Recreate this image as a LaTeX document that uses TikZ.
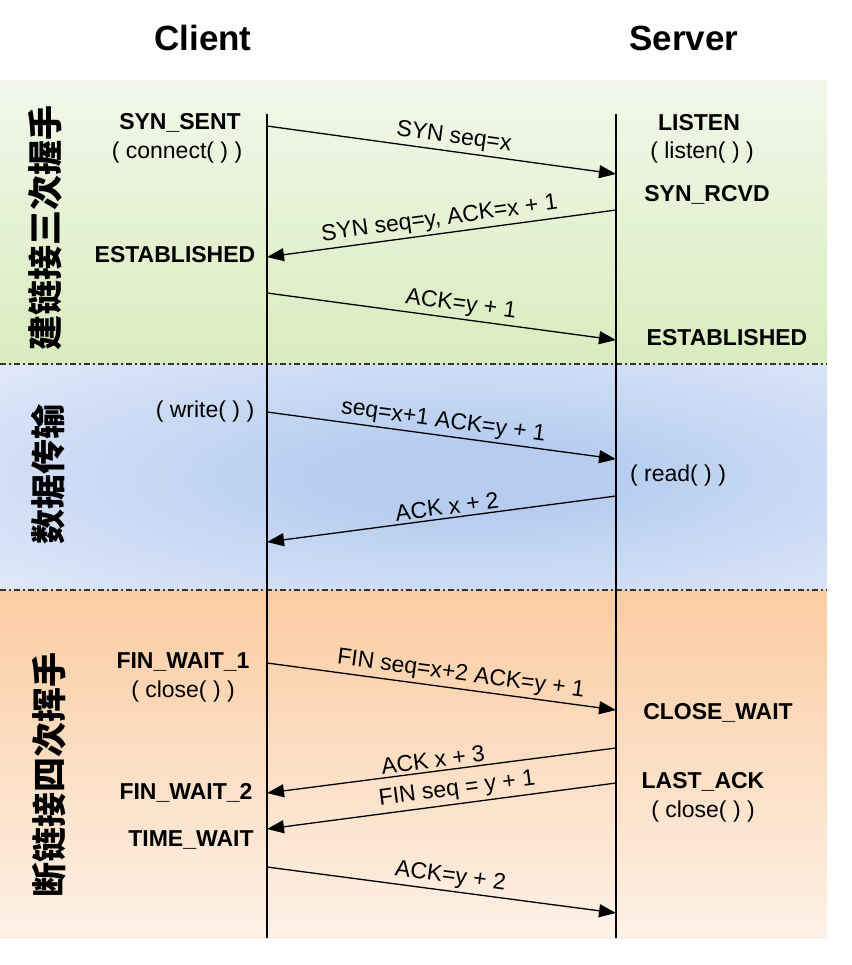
\documentclass[tikz,border=0pt]{standalone}
\usepackage{fontspec}
\setmainfont{Liberation Sans}
\newfontfamily\cjk{Noto Sans CJK SC}
\usepackage{tikz}
\usetikzlibrary{arrows.meta}

\definecolor{greentop}{RGB}{242,247,234}
\definecolor{greenbot}{RGB}{217,236,190}
\definecolor{bluein}{RGB}{182,205,240}
\definecolor{blueout}{RGB}{230,237,249}
\definecolor{orangetop}{RGB}{251,204,162}
\definecolor{orangebot}{RGB}{253,241,230}
\pgfdeclareradialshading{bluecore}{\pgfpoint{4bp}{0bp}}{color(0bp)=(bluein); color(8bp)=(bluein); color(42bp)=(blueout); color(100bp)=(blueout)}

\tikzset{
  title/.style={font=\fontsize{35}{40}\selectfont\bfseries},
  state/.style={font=\fontsize{23}{26}\selectfont\bfseries,inner sep=0pt},
  call/.style={font=\fontsize{23}{26}\selectfont,inner sep=0pt},
  phase/.style={font=\cjk\bfseries\fontsize{35}{36}\selectfont,rotate=90,inner sep=0pt},
  msg/.style={line width=1.3pt,-{Triangle[length=17pt,width=13pt]}},
  lbl/.style={font=\fontsize{23}{26}\selectfont,sloped,above,inner sep=3pt},
  sep/.style={line width=1.2pt,dash pattern=on 6pt off 3pt on 2pt off 3pt,black!80}
}

\begin{document}
\begin{tikzpicture}[x=1pt,y=-1pt]
\useasboundingbox (0,0) rectangle (851,965);
% phase bands
\shade[top color=greentop,bottom color=greenbot] (0,81) rectangle (827,364);
\shade[shading=bluecore] (0,364) rectangle (827,590);
\shade[top color=orangetop,bottom color=orangebot] (0,590) rectangle (827,938);
% band borders
\draw[sep] (0,364) to (827,364);
\draw[sep] (0,590) to (827,590);
% titles
\node[title] (client) at (203,38) {Client};
\node[title] (server) at (684,38) {Server};
% lifelines
\coordinate (ctop) at (267,114);
\coordinate (cbot) at (267,938);
\coordinate (stop) at (616,114);
\coordinate (sbot) at (616,938);
\draw[line width=1.5pt] (ctop) to (cbot);
\draw[line width=1.5pt] (stop) to (sbot);
% phase labels
\node[phase] (connect) at (45,228) {建链接三次握手};
\node[phase] (transfer) at (48,474) {数据传输};
\node[phase] (release) at (49,775) {断链接四次挥手};
% client states
\node[state] (synsent) at (180,123) {SYN\_SENT};
\node[call] (connectcall) at (177,153) {( connect( ) )};
\node[state] (cest) at (175,255) {ESTABLISHED};
\node[call] (write) at (205,412) {( write( ) )};
\node[state] (finwait1) at (183,662) {FIN\_WAIT\_1};
\node[call] (cclose) at (183,692) {( close( ) )};
\node[state] (finwait2) at (186,793) {FIN\_WAIT\_2};
\node[state] (timewait) at (191,840) {TIME\_WAIT};
% server states
\node[state] (listen) at (699,123) {LISTEN};
\node[call] (listencall) at (702,153) {( listen( ) )};
\node[state] (synrcvd) at (707,195) {SYN\_RCVD};
\node[state] (sest) at (727,338) {ESTABLISHED};
\node[call] (read) at (678,476) {( read( ) )};
\node[state] (closewait) at (718,713) {CLOSE\_WAIT};
\node[state] (lastack) at (703,782) {LAST\_ACK};
\node[call] (sclose) at (703,812) {( close( ) )};
% message end points
\coordinate (c1) at (267,126);  \coordinate (s1) at (616,174);
\coordinate (s2) at (616,210);  \coordinate (c2) at (267,257);
\coordinate (c3) at (267,293);  \coordinate (s3) at (616,340);
\coordinate (c4) at (267,412);  \coordinate (s4) at (616,459);
\coordinate (s5) at (616,496);  \coordinate (c5) at (267,542);
\coordinate (c6) at (267,663);  \coordinate (s6) at (616,710);
\coordinate (s7) at (616,748);  \coordinate (c7) at (267,793);
\coordinate (s8) at (616,783);  \coordinate (c8) at (267,829);
\coordinate (c9) at (267,867);  \coordinate (s9) at (616,913);
% handshake
\draw[msg] (c1) to node[lbl,pos=0.53] {SYN seq=x} (s1);
\draw[msg] (s2) to node[lbl,pos=0.5] {SYN seq=y, ACK=x + 1} (c2);
\draw[msg] (c3) to node[lbl,pos=0.55] {ACK=y + 1} (s3);
% data
\draw[msg] (c4) to node[lbl,pos=0.5] {seq=x+1 ACK=y + 1} (s4);
\draw[msg] (s5) to node[lbl,pos=0.48] {ACK x + 2} (c5);
% teardown
\draw[msg] (c6) to node[lbl,pos=0.55] {FIN seq=x+2 ACK=y + 1} (s6);
\draw[msg] (s7) to node[lbl,pos=0.52] {ACK x + 3} (c7);
\draw[msg] (s8) to node[lbl,pos=0.45] {FIN seq = y + 1} (c8);
\draw[msg] (c9) to node[lbl,pos=0.52] {ACK=y + 2} (s9);
\end{tikzpicture}
\end{document}
